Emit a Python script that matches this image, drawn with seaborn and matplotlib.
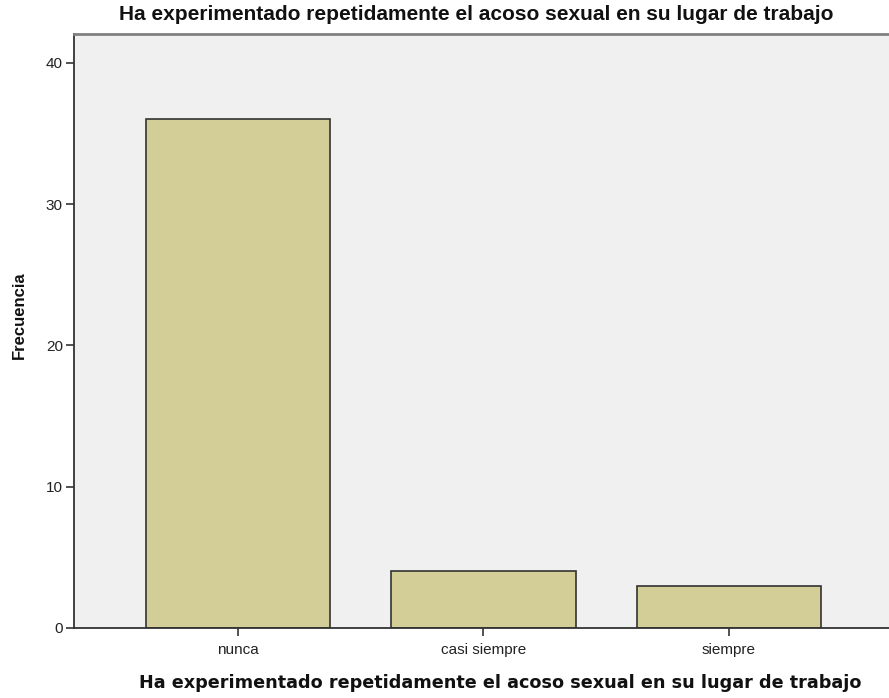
import matplotlib
matplotlib.use("Agg")
import matplotlib.pyplot as plt
import seaborn as sns

categorias = ["nunca", "casi siempre", "siempre"]
frecuencias = [36, 4, 3]
y_ticks = [0, 10, 20, 30, 40]

titulo = "Ha experimentado repetidamente el acoso sexual en su lugar de trabajo"

sns.set_style("white")
plt.rcParams['font.family'] = ['Liberation Sans', 'DejaVu Sans']

fig = plt.figure(figsize=(8.89, 6.98), dpi=100)
ax = fig.add_axes([0.0832, 0.1003, 0.9168, 0.851])
ax.set_facecolor("#f0f0f0")

sns.barplot(x=categorias, y=frecuencias, ax=ax, color="#d3ce97",
            edgecolor="#333333", linewidth=1.2, width=0.75, saturation=1)

ax.set_xlim(-0.668, 2.652)
ax.set_ylim(0, 42.05)
ax.set_yticks(y_ticks)
ax.tick_params(axis="both", direction="out", length=6, width=1.2,
               color="#333333", labelsize=11, labelcolor="#222222",
               bottom=True, left=True, pad=2)
ax.tick_params(axis="x", pad=5)

for side in ["left", "bottom"]:
    ax.spines[side].set_color("#333333")
    ax.spines[side].set_linewidth(1.3)
ax.spines["top"].set_color("#808080")
ax.spines["top"].set_linewidth(2)
ax.spines["right"].set_visible(False)

# titulo centrado como en SPSS (no sobre el eje recortado)
fig.text(476 / 889, 1 - 15 / 698, titulo, fontsize=15, fontweight="bold",
         ha="center", va="center", color="#111111")
ax.set_xlabel(titulo, fontsize=12.7, fontweight="bold",
              family=["DejaVu Sans"], color="#111111")
ax.xaxis.set_label_coords((500 - 74) / 815, -(683 - 628) / 594)
ax.xaxis.label.set_va("center")
ax.set_ylabel("Frecuencia", fontsize=12, fontweight="bold", color="#111111")
ax.yaxis.set_label_coords(-(75 - 20) / 815, (628 - 315) / 594)
ax.yaxis.label.set_va("center")

fig.savefig("out.png", dpi=100)
